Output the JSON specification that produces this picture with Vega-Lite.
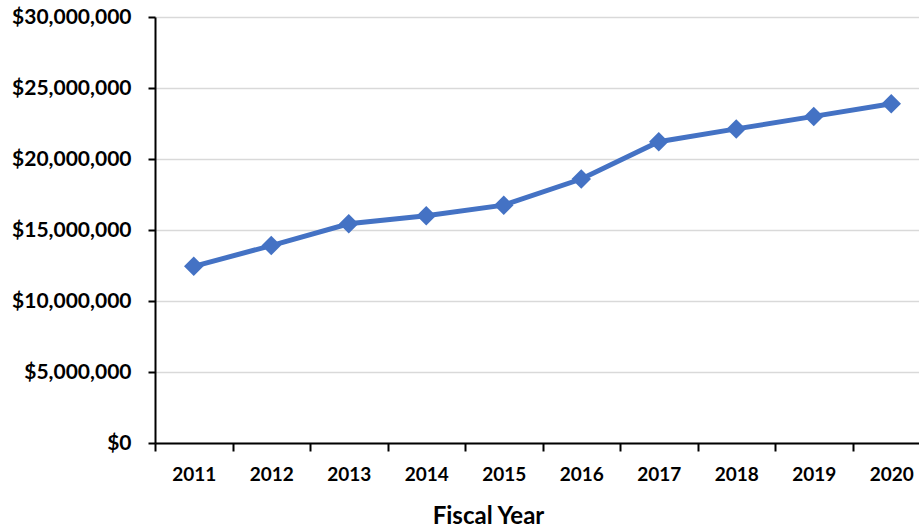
{
  "$schema": "https://vega.github.io/schema/vega-lite/v6.json",
  "autosize": "none",
  "width": 775,
  "height": 426,
  "padding": {"left": 155, "top": 17, "right": 0, "bottom": 86},
  "background": "white",
  "config": {
    "view": {"stroke": null},
    "font": "Lato",
    "axis": {"labelFont": "Lato", "titleFont": "Lato", "labelColor": "#000000", "titleColor": "#000000"}
  },
  "data": {
    "values": [
      {"year": "2011", "amount": 12440000},
      {"year": "2012", "amount": 13900000},
      {"year": "2013", "amount": 15440000},
      {"year": "2014", "amount": 16000000},
      {"year": "2015", "amount": 16750000},
      {"year": "2016", "amount": 18590000},
      {"year": "2017", "amount": 21220000},
      {"year": "2018", "amount": 22120000},
      {"year": "2019", "amount": 23000000},
      {"year": "2020", "amount": 23890000}
    ]
  },
  "encoding": {
    "x": {
      "field": "year",
      "type": "ordinal",
      "scale": {"type": "band", "paddingInner": 0, "paddingOuter": 0},
      "axis": {
        "title": "Fiscal Year",
        "labelAngle": 0,
        "labelFontSize": 19,
        "labelFontWeight": "bold",
        "labelPadding": 14,
        "tickBand": "extent",
        "tickSize": 8,
        "tickWidth": 2,
        "tickColor": "#000000",
        "domainColor": "#000000",
        "domainWidth": 2,
        "titleFontSize": 24,
        "titleFontWeight": "bold",
        "titlePadding": 20,
        "titleX": 333,
        "titleAlign": "center",
        "grid": false
      }
    },
    "y": {
      "field": "amount",
      "type": "quantitative",
      "scale": {"domain": [0, 30000000], "nice": false},
      "axis": {
        "title": null,
        "values": [0, 5000000, 10000000, 15000000, 20000000, 25000000, 30000000],
        "format": "$,.0f",
        "labelFontSize": 21,
        "labelFontWeight": "bold",
        "labelPadding": 17,
        "tickSize": 7,
        "tickWidth": 2,
        "tickColor": "#000000",
        "domainColor": "#000000",
        "domainWidth": 2,
        "grid": true,
        "gridColor": "#D9D9D9",
        "gridWidth": 1.5
      }
    }
  },
  "layer": [
    {"mark": {"type": "line", "color": "#4472C4", "strokeWidth": 5}},
    {"mark": {"type": "point", "shape": "diamond", "filled": true, "color": "#4472C4", "opacity": 1, "size": 380}}
  ]
}
